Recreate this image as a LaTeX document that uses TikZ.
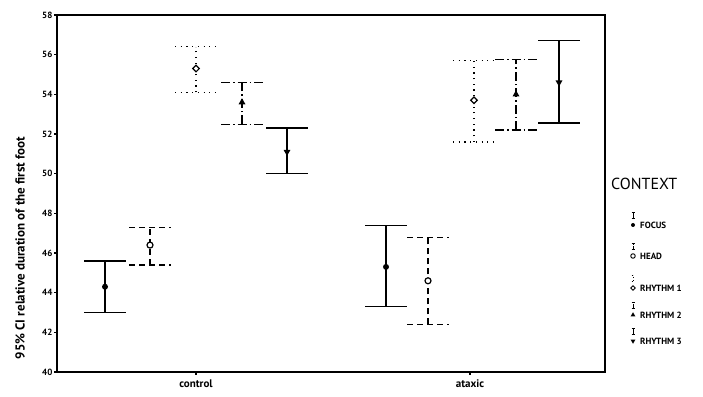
\documentclass[tikz,border=0pt]{standalone}
\usepackage{fontspec}
\setmainfont{PT Sans}
\usetikzlibrary{shapes.geometric}

\begin{document}
\begin{tikzpicture}[x=1pt, y=1pt,
                frame/.style={line width=1.2pt},
                tick lab/.style={font=\fontsize{9}{10}\selectfont\bfseries, anchor=east, inner sep=1pt},
                cat lab/.style={font=\fontsize{11}{12}\selectfont\bfseries},
                leg lab/.style={font=\fontsize{9}{10}\selectfont\bfseries, anchor=west, inner sep=0pt},
                focus bar/.style={line width=1.2pt},
                head bar/.style={line width=1.2pt, dash pattern=on 6pt off 4pt},
                rhythm1 bar/.style={line width=1.2pt, dash pattern=on 1.2pt off 4.5pt},
                rhythm2 bar/.style={line width=1.2pt, dash pattern=on 9pt off 3pt on 1.5pt off 3pt},
                rhythm3 bar/.style={line width=1.3pt},
                focus mark/.style={circle, fill, inner sep=0pt, minimum size=6pt},
                head mark/.style={circle, draw, fill=white, line width=1.2pt, inner sep=0pt, minimum size=6pt},
                rhythm1 mark/.style={diamond, draw, fill=white, line width=1.2pt, inner sep=0pt, minimum size=7pt},
                rhythm2 mark/.style={regular polygon, regular polygon sides=3, fill, inner sep=0pt, minimum size=8pt},
                rhythm3 mark/.style={regular polygon, regular polygon sides=3, shape border rotate=180, fill, inner sep=0pt, minimum size=8pt}]
                \useasboundingbox (0,0) rectangle (703,396);

                % Plot area, one y unit per duration point
                \begin{scope}[y=19.83pt, yshift=-769.2pt]
                \draw[frame] (57,40) rectangle (605,58);
                \foreach \v in {40,42,...,58} {
                    \draw[frame] (57,\v) -- ++(-3pt,0) node[tick lab] (tick\v) {\v};
                }
                \draw[frame] (196,40) -- ++(0,-3pt);
                \draw[frame] (470,40) -- ++(0,-3pt);

                % control
                \draw[focus bar] (84,43) -- (126,43) (105,43) -- (105,45.6) (84,45.6) -- (126,45.6);
                \node[focus mark] (c focus) at (105,44.3) {};
                \draw[head bar] (129,45.4) -- (171,45.4) (150,45.4) -- (150,47.3) (129,47.3) -- (171,47.3);
                \node[head mark] (c head) at (150,46.4) {};
                \draw[rhythm1 bar] (175,54.1) -- (217,54.1) (196,54.1) -- (196,56.4) (175,56.4) -- (217,56.4);
                \node[rhythm1 mark] (c rhythm1) at (196,55.3) {};
                \draw[rhythm2 bar] (221,52.5) -- (263,52.5) (242,52.5) -- (242,54.6) (221,54.6) -- (263,54.6);
                \node[rhythm2 mark] (c rhythm2) at (242,53.6) {};
                \draw[rhythm3 bar] (266,50) -- (308,50) (287,50) -- (287,52.3) (266,52.3) -- (308,52.3);
                \node[rhythm3 mark] (c rhythm3) at (287,51.1) {};

                % ataxic
                \draw[focus bar] (365,43.3) -- (407,43.3) (386,43.3) -- (386,47.4) (365,47.4) -- (407,47.4);
                \node[focus mark] (a focus) at (386,45.3) {};
                \draw[head bar] (407,42.4) -- (449,42.4) (428,42.4) -- (428,46.8) (407,46.8) -- (449,46.8);
                \node[head mark] (a head) at (428,44.6) {};
                \draw[rhythm1 bar] (453,51.6) -- (495,51.6) (474,51.6) -- (474,55.7) (453,55.7) -- (495,55.7);
                \node[rhythm1 mark] (a rhythm1) at (474,53.7) {};
                \draw[rhythm2 bar] (495,52.2) -- (537,52.2) (516,52.2) -- (516,55.75) (495,55.75) -- (537,55.75);
                \node[rhythm2 mark] (a rhythm2) at (516,54) {};
                \draw[rhythm3 bar] (538,52.55) -- (580,52.55) (559,52.55) -- (559,56.7) (538,56.7) -- (580,56.7);
                \node[rhythm3 mark] (a rhythm3) at (559,54.6) {};
                \end{scope}

                % Axis labels
                \node[cat lab] (control) at (196,12) {control};
                \node[cat lab] (ataxic) at (470,12) {ataxic};
                \node[rotate=90, font=\fontsize{13}{15}\selectfont\bfseries] (ylab) at (20,148) {95\% CI relative duration of the first foot};

                % Legend
                \node[font=\fontsize{16}{18}\selectfont, anchor=west, inner sep=0pt] (context) at (611,212) {CONTEXT};

                \draw[focus bar, line width=0.9pt] (631.5,178) -- (634.5,178) (633,178) -- (633,184) (631.5,184) -- (634.5,184);
                \node[focus mark, minimum size=4pt] (l focus) at (633,171) {};
                \node[leg lab] (focus) at (640,171) {FOCUS};

                \draw[head bar, line width=0.9pt, dash pattern=on 3pt off 1pt] (631.5,147) -- (634.5,147) (633,147) -- (633,153) (631.5,153) -- (634.5,153);
                \node[head mark, minimum size=4.5pt, line width=0.9pt] (l head) at (633,140) {};
                \node[leg lab] (head) at (640,140) {HEAD};

                \draw[rhythm1 bar, line width=0.9pt, dash pattern=on 1pt off 2pt] (631.5,115) -- (634.5,115) (633,115) -- (633,121) (631.5,121) -- (634.5,121);
                \node[rhythm1 mark, minimum size=5pt, line width=0.9pt] (l rhythm1) at (633,108) {};
                \node[leg lab] (rhythm1) at (640,108) {RHYTHM 1};

                \draw[rhythm2 bar, line width=0.9pt, dash pattern=on 4pt off 1pt] (631.5,88) -- (634.5,88) (633,88) -- (633,94) (631.5,94) -- (634.5,94);
                \node[rhythm2 mark, minimum size=5.5pt] (l rhythm2) at (633,81) {};
                \node[leg lab] (rhythm2) at (640,81) {RHYTHM 2};

                \draw[rhythm3 bar, line width=0.9pt] (631.5,62) -- (634.5,62) (633,62) -- (633,68) (631.5,68) -- (634.5,68);
                \node[rhythm3 mark, minimum size=5.5pt] (l rhythm3) at (633,55) {};
                \node[leg lab] (rhythm3) at (640,55) {RHYTHM 3};
            \end{tikzpicture}
\end{document}
